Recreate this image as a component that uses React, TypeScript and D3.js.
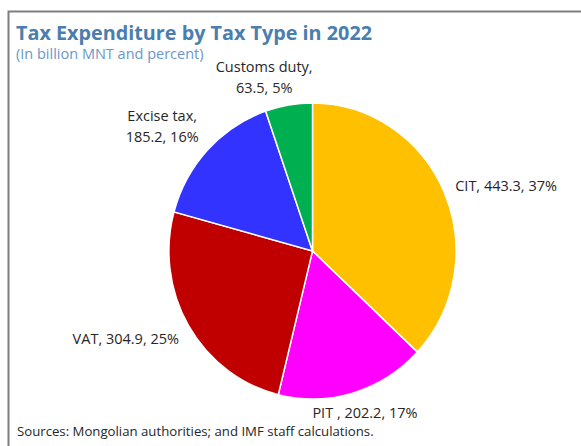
import { useEffect, useRef } from 'react'
import * as d3 from 'd3'

const categories = ['CIT', 'PIT ', 'VAT', 'Excise tax', 'Customs duty']
const values = [443.3, 202.2, 304.9, 185.2, 63.5]
const percents = ['37%', '17%', '25%', '16%', '5%']
const sliceColors = ['#FFC000', '#FF00FF', '#C00000', '#3333FF', '#00B050']

const W = 581
const H = 446
const font = '"Open Sans", "Noto Sans", sans-serif'

export default function App() {
  const ref = useRef<SVGSVGElement>(null)

  useEffect(() => {
    if (!ref.current) return
    const svg = d3.select(ref.current)
    svg.selectAll('*').remove()

    // frame: top and left edges only
    svg.append('path')
      .attr('d', `M8.5,${H} V11.5 H${W}`)
      .attr('fill', 'none')
      .attr('stroke', '#7f7f7f')
      .attr('stroke-width', 2)

    svg.append('text')
      .attr('x', 16)
      .attr('y', 39.5)
      .attr('font-family', font)
      .attr('font-size', 19.8)
      .attr('font-weight', 700)
      .attr('fill', '#4A7EAE')
      .text('Tax Expenditure by Tax Type in 2022')

    svg.append('text')
      .attr('x', 16)
      .attr('y', 59)
      .attr('font-family', font)
      .attr('font-size', 14.5)
      .attr('fill', '#6B97C6')
      .text('(In billion MNT and percent)')

    const cx = 312.5
    const cy = 251
    const r = 148
    const xScale = 0.97

    const pie = d3.pie<number>().sort(null).value((d) => d)
    const arcs = pie(values)
    const arc = d3.arc<d3.PieArcDatum<number>>().innerRadius(0).outerRadius(r)

    const g = svg.append('g').attr('transform', `translate(${cx},${cy}) scale(${xScale},1)`)
    g.selectAll('path')
      .data(arcs)
      .join('path')
      .attr('d', arc)
      .attr('fill', (_, i) => sliceColors[i])
      .attr('stroke', '#fff')
      .attr('stroke-width', 1.5)

    // label placement: point on an outer ring at the mid angle, with a nudge
    const labelR = [157, 168, 162, 170, 170]
    const anchors = ['start', 'middle', 'end', 'middle', 'middle']
    const nudge: [number, number][] = [[3, 2], [6, 5.5], [2, 11], [-30, -14], [-21, -11]]
    const lines = (i: number) =>
      i >= 3
        ? [`${categories[i]},`, `${values[i]}, ${percents[i]}`]
        : [`${categories[i]}, ${values[i]}, ${percents[i]}`]

    arcs.forEach((a, i) => {
      const mid = (a.startAngle + a.endAngle) / 2
      const x = cx + Math.sin(mid) * labelR[i] * xScale + nudge[i][0]
      const y = cy - Math.cos(mid) * labelR[i] + nudge[i][1]
      const t = svg.append('text')
        .attr('font-family', font)
        .attr('font-size', 14.5)
        .attr('fill', '#262626')
        .attr('text-anchor', anchors[i])
      lines(i).forEach((ln, j) => {
        t.append('tspan').attr('x', x).attr('y', y + j * 21).text(ln)
      })
    })

    svg.append('text')
      .attr('x', 17)
      .attr('y', 435.5)
      .attr('font-family', font)
      .attr('font-size', 13.2)
      .attr('fill', '#262626')
      .text('Sources: Mongolian authorities; and IMF staff calculations.')
  }, [])

  return (
    <svg ref={ref} width={W} height={H} style={{ display: 'block', position: 'absolute', left: 0, top: 0, background: '#fff' }} />
  )
}
